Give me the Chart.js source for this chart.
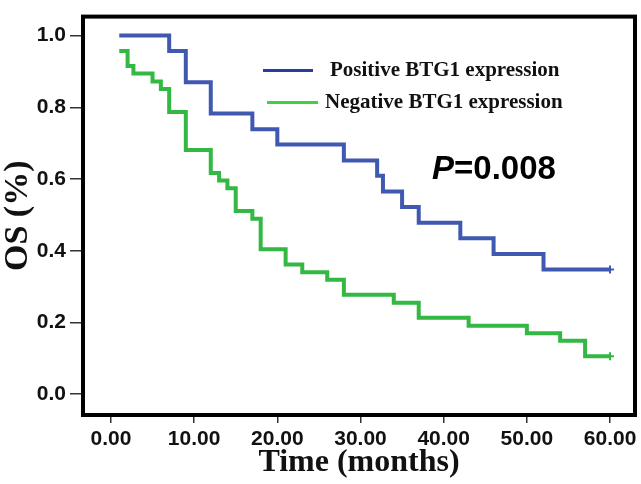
<!DOCTYPE html>
<html>
<head>
<meta charset="utf-8">
<script src="https://cdn.jsdelivr.net/npm/chart.js@4"></script>
<style>
  html, body { margin: 0; padding: 0; background: #ffffff; }
  #wrap { width: 641px; height: 484px; }
</style>
</head>
<body>
<div id="wrap"><canvas id="c" width="641" height="484"></canvas></div>
<script>
// ---- data ----
const posTimes = [1, 7, 9, 12, 17, 20, 28, 32, 32.7, 35, 37, 42, 46, 52, 60];
const posSurv  = [1.0, 0.957, 0.870, 0.783, 0.739, 0.696, 0.652, 0.609, 0.565, 0.522, 0.478, 0.435, 0.391, 0.348, 0.348];
const negTimes = [1, 2, 2.7, 5, 6, 7, 9, 12, 13, 14, 15, 17, 18, 21, 23, 26, 28, 34, 37, 43, 50, 54, 57, 60];
const negSurv  = [0.957, 0.915, 0.894, 0.872, 0.851, 0.787, 0.681, 0.617, 0.596, 0.574, 0.511, 0.489, 0.404, 0.362, 0.340, 0.319, 0.277, 0.255, 0.213, 0.191, 0.170, 0.149, 0.106, 0.106];
const xTicks = [0, 10, 20, 30, 40, 50, 60];
const yTicks = [0.0, 0.2, 0.4, 0.6, 0.8, 1.0];
const seriesNames = ['Positive BTG1 expression', 'Negative BTG1 expression'];
const pText = ['P', '=0.008'];

function toPoints(ts, vs) { return ts.map((t, i) => ({ x: t, y: vs[i] })); }
function lastOnly(arr, r) { return arr.map((_, i) => i === arr.length - 1 ? r : 0); }

const frame = {
  id: 'frame',
  afterDraw(chart) {
    const { ctx, chartArea: a } = chart;
    ctx.save();
    ctx.strokeStyle = '#000';
    ctx.lineWidth = 4;
    ctx.strokeRect(a.left, a.top, a.right - a.left, a.bottom - a.top);
    ctx.restore();
  }
};

const legendAndP = {
  id: 'legendAndP',
  afterDatasetsDraw(chart) {
    const { ctx, chartArea: a } = chart;
    ctx.save();
    const rows = [
      { c: '#283c9c', x0: 180, x1: 230, tx: 247, y: 54 },
      { c: '#3fd23f', x0: 184, x1: 235, tx: 242, y: 86 }
    ];
    rows.forEach((r, i) => {
      ctx.strokeStyle = r.c;
      ctx.lineWidth = 3;
      ctx.beginPath();
      ctx.moveTo(a.left + r.x0, a.top + r.y);
      ctx.lineTo(a.left + r.x1, a.top + r.y);
      ctx.stroke();
      ctx.fillStyle = '#111';
      ctx.font = 'bold 21px "Liberation Serif", "Times New Roman", serif';
      ctx.textBaseline = 'middle';
      ctx.textAlign = 'left';
      ctx.fillText(seriesNames[i], a.left + r.tx, a.top + r.y);
    });
    // P value
    ctx.fillStyle = '#000';
    ctx.textBaseline = 'alphabetic';
    ctx.font = 'italic bold 33px "Liberation Sans", Arial, sans-serif';
    const px = a.left + 349, py = a.top + 162;
    ctx.fillText(pText[0], px, py);
    const w = ctx.measureText(pText[0]).width;
    ctx.font = 'bold 33px "Liberation Sans", Arial, sans-serif';
    ctx.fillText(pText[1], px + w, py);
    ctx.restore();
  }
};

const tickFont = { family: '"Liberation Sans", Arial, sans-serif', size: 21, weight: 'bold', lineHeight: 1.2 };

new Chart(document.getElementById('c'), {
  type: 'line',
  data: {
    datasets: [
      {
        label: seriesNames[0],
        data: toPoints(posTimes, posSurv),
        borderColor: '#3f58b0',
        backgroundColor: '#3f58b0',
        borderWidth: 4,
        stepped: 'before',
        fill: false,
        pointStyle: 'cross',
        pointRadius: lastOnly(posTimes, 4),
        pointBorderWidth: 2,
        pointBorderColor: '#3f58b0'
      },
      {
        label: seriesNames[1],
        data: toPoints(negTimes, negSurv),
        borderColor: '#33b843',
        backgroundColor: '#33b843',
        borderWidth: 4,
        stepped: 'before',
        fill: false,
        pointStyle: 'cross',
        pointRadius: lastOnly(negTimes, 4),
        pointBorderWidth: 2,
        pointBorderColor: '#33b843'
      }
    ]
  },
  options: {
    responsive: false,
    animation: false,
    events: [],
    layout: { padding: { top: 15, right: 5, left: 0, bottom: 0 } },
    plugins: { legend: { display: false }, tooltip: { enabled: false } },
    scales: {
      x: {
        type: 'linear',
        min: -3.36,
        max: 63.0,
        afterBuildTicks(s) { s.ticks = xTicks.map(v => ({ value: v })); },
        afterFit(s) { s.height = 69; },
        border: { display: false },
        grid: { display: true, drawOnChartArea: false, drawTicks: true, tickLength: 8, color: '#333', lineWidth: 1.5 },
        ticks: {
          color: '#111', font: tickFont, padding: 4, maxRotation: 0, autoSkip: false,
          callback: v => Number(v).toFixed(2)
        },
        title: {
          display: true, text: 'Time (months)', color: '#111',
          font: { family: '"Liberation Serif", "Times New Roman", serif', size: 32, weight: 'bold', lineHeight: 1.2 },
          padding: { top: 0, bottom: 2 }
        }
      },
      y: {
        type: 'linear',
        min: -0.058,
        max: 1.053,
        afterBuildTicks(s) { s.ticks = yTicks.map(v => ({ value: v })); },
        afterFit(s) { s.width = 83; },
        border: { display: false },
        grid: { display: true, drawOnChartArea: false, drawTicks: true, tickLength: 13, color: '#333', lineWidth: 1.5 },
        ticks: {
          color: '#111', font: tickFont, padding: 4, autoSkip: false,
          callback: v => Number(v).toFixed(1)
        },
        title: {
          display: true, text: 'OS (%)', color: '#111',
          font: { family: '"Liberation Serif", "Times New Roman", serif', size: 34, weight: 'bold', lineHeight: 1.1 },
          padding: { top: 0, bottom: 0 }
        }
      }
    }
  },
  plugins: [frame, legendAndP]
});
</script>
</body>
</html>
